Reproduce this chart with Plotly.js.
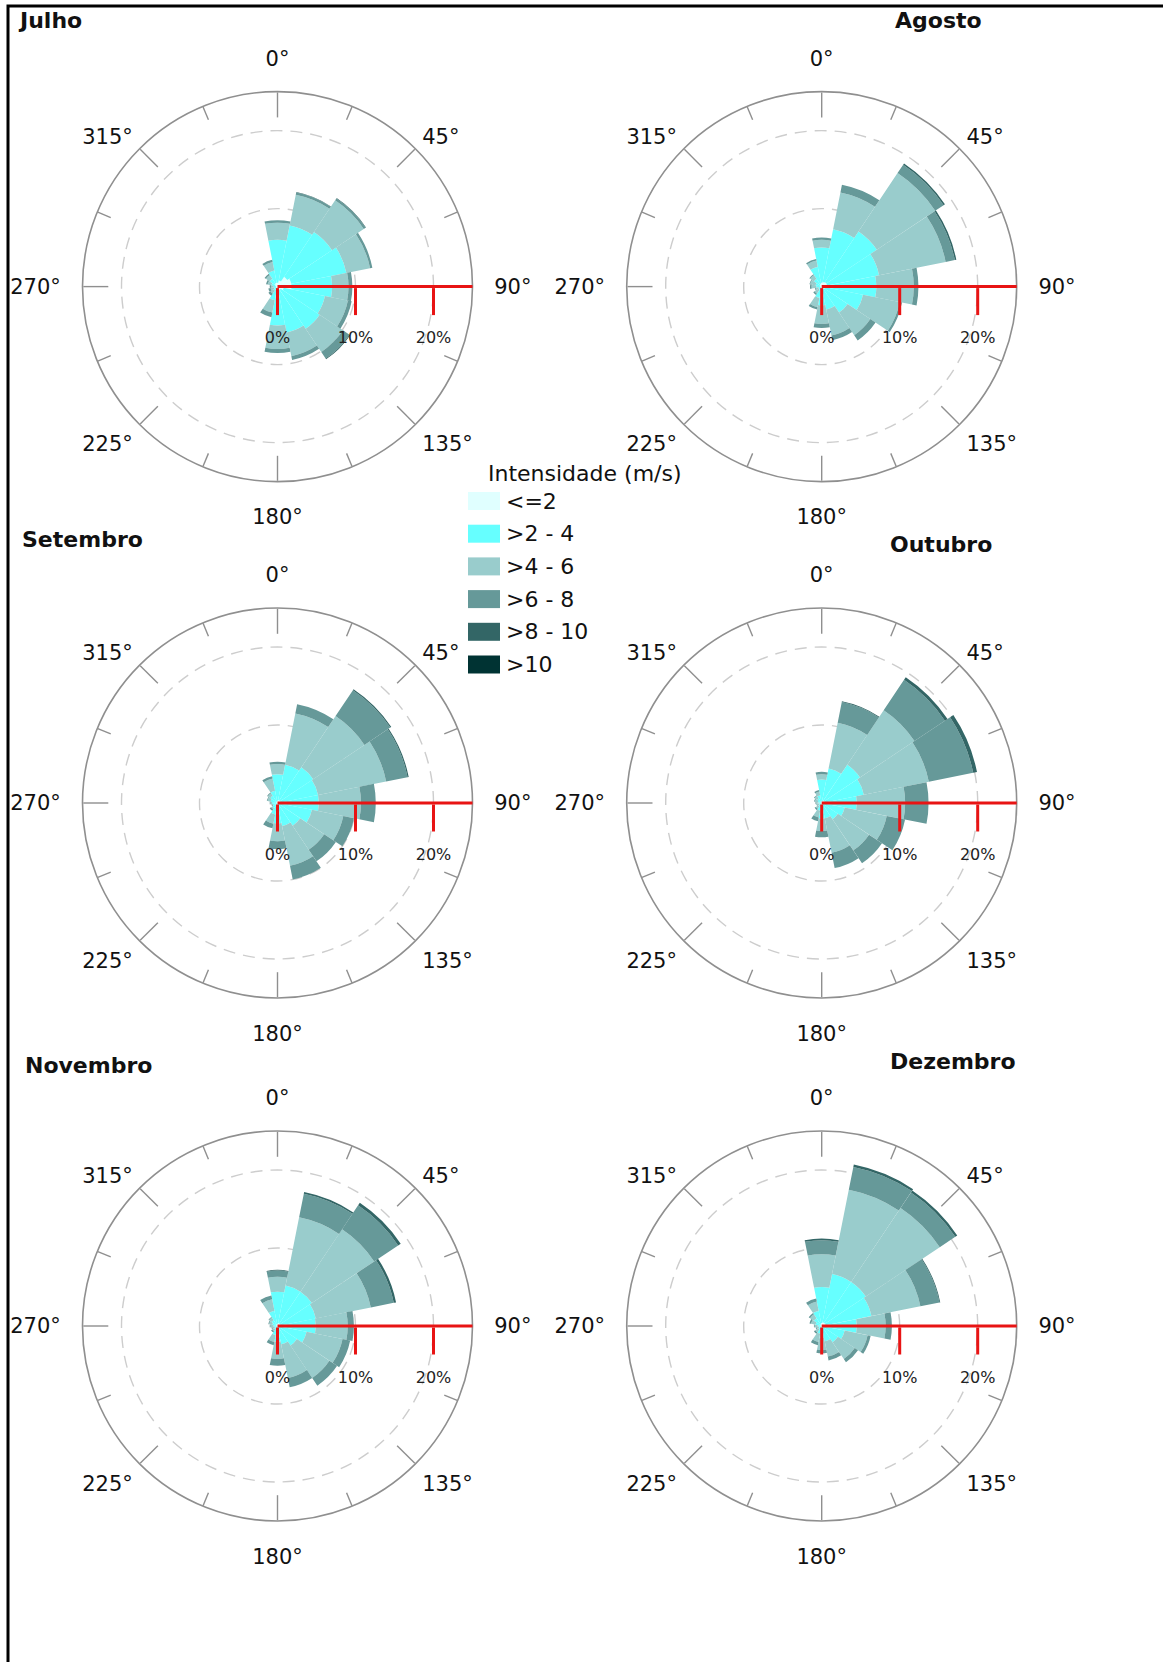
<!DOCTYPE html>
<html><head><meta charset="utf-8">
<script src="https://cdn.plot.ly/plotly-3.0.1.min.js"></script>
<style>html,body{margin:0;padding:0;background:#fff}#chart{width:1163px;height:1662px}</style>
</head><body><div id="chart"></div>
<script>
// ---------------- DATA ----------------
const months = ['Julho','Agosto','Setembro','Outubro','Novembro','Dezembro'];
// 16 directions (degrees, clockwise from north): N, NNE, NE, ENE, E, ESE, SE, SSE, S, SSW, SW, WSW, W, WNW, NW, NNW
const directions = [0,22.5,45,67.5,90,112.5,135,157.5,180,202.5,225,247.5,270,292.5,315,337.5];
const classes = ['<=2','>2 - 4','>4 - 6','>6 - 8','>8 - 10','>10'];
const classColors = ['#e0ffff','#66ffff','#99cccc','#669999','#336666','#003333'];
const cardinalTickVals = [0,90,180,270];
const cardinalTickText = ['0°','90°','180°','270°'];
const diagonalTickVals = [45,135,225,315];
const diagonalTickText = ['45°','135°','225°','315°'];
const majorTickMarks = [0,45,135,180,225,270,315];
const minorTickVals = [22.5,67.5,112.5,157.5,202.5,247.5,292.5,337.5];
const radialTickVals = [0,10,20];
const radialTickText = ['0%','10%','20%'];

// frequency (%) per direction, per speed class
const julho_le2  = [0.5,0.8,1.5,1.8,1.8,0.8,0.5,0.4,0.4,0.3,0.2,0.2,0.2,0.3,0.4,0.5];
const julho_2_4  = [5.5,7.2,6.9,7.2,5.2,5.4,6.0,5.6,4.6,1.5,0.4,0.3,0.3,0.5,0.8,1.6];
const julho_4_6  = [2.2,4.0,4.9,3.1,2.1,3.0,3.6,3.1,3.0,1.6,0.5,0.4,0.3,0.5,0.6,1.1];
const julho_6_8  = [0.3,0.3,0.3,0.3,0.5,0.5,1.0,0.5,0.5,0.6,0.3,0.3,0.2,0.2,0.2,0.3];
const julho_8_10 = [0,0.05,0.05,0,0,0,0.1,0,0,0,0,0,0,0,0,0];
const julho_gt10 = [0,0,0,0,0,0,0,0,0,0,0,0,0,0,0,0];

const agosto_le2  = [0.5,0.6,0.7,0.7,0.8,0.5,0.4,0.3,0.3,0.2,0.1,0.1,0.2,0.2,0.3,0.4];
const agosto_2_4  = [4.5,6.9,7.8,6.8,6.2,4.9,3.6,2.7,2.1,1.3,0.4,0.3,0.5,0.6,0.9,2.2];
const agosto_4_6  = [1.0,4.8,9.0,8.7,4.8,4.8,3.5,3.4,2.4,1.2,0.6,0.4,0.6,0.7,0.6,0.8];
const agosto_6_8  = [0.3,1.0,1.3,1.2,0.6,0.3,0.8,0.6,0.5,0.3,0.2,0.1,0.2,0.1,0.1,0.2];
const agosto_8_10 = [0,0,0.2,0.2,0,0,0,0,0,0,0,0,0,0,0,0];
const agosto_gt10 = [0,0,0,0,0,0,0,0,0,0,0,0,0,0,0,0];

const setembro_le2  = [0.3,0.4,0.4,0.4,0.3,0.3,0.2,0.2,0.2,0.1,0.1,0.1,0.1,0.2,0.2,0.2];
const setembro_2_4  = [3.4,4.6,5.1,4.9,5.0,4.2,3.3,2.8,2.4,1.4,0.7,0.5,0.6,0.7,0.9,1.4];
const setembro_4_6  = [1.3,6.7,7.9,8.9,5.4,4.1,3.7,5.2,2.3,1.2,0.2,0.1,0.2,0.4,0.4,1.6];
const setembro_6_8  = [0.3,1.2,4.0,2.8,1.9,1.4,1.8,1.8,1.0,0.6,0.2,0.1,0.1,0.1,0.1,0.3];
const setembro_8_10 = [0,0,0.15,0.15,0,0,0,0,0,0,0,0,0,0,0,0];
const setembro_gt10 = [0,0,0,0,0,0,0,0,0,0,0,0,0,0,0,0];

const outubro_le2  = [0.2,0.3,0.4,0.4,0.4,0.3,0.2,0.2,0.2,0.1,0.1,0.1,0.1,0.1,0.2,0.2];
const outubro_2_4  = [2.8,4.2,5.5,5.1,4.1,2.7,2.3,1.8,1.8,0.9,0.4,0.2,0.3,0.4,0.5,0.8];
const outubro_4_6  = [0.7,6.0,8.4,8.5,6.2,5.5,4.8,4.5,1.6,0.9,0.4,0.3,0.3,0.4,0.4,0.5];
const outubro_6_8  = [0.3,2.7,4.7,5.8,3.0,2.4,2.0,2.0,0.8,0.5,0.2,0.1,0.1,0.1,0.1,0.2];
const outubro_8_10 = [0,0.1,0.4,0.5,0,0,0,0,0,0,0,0,0,0,0,0];
const outubro_gt10 = [0,0,0,0,0,0,0,0,0,0,0,0,0,0,0,0];

const novembro_le2  = [0.3,0.4,0.4,0.4,0.4,0.3,0.2,0.2,0.2,0.1,0.1,0.1,0.1,0.2,0.2,0.3];
const novembro_2_4  = [4.1,4.9,4.9,4.6,4.5,3.5,2.8,2.2,1.8,1.1,0.4,0.3,0.4,0.5,0.7,1.7];
const novembro_4_6  = [1.9,8.9,9.6,7.2,4.1,4.7,5.0,4.4,2.2,0.9,0.3,0.3,0.4,0.4,0.4,1.5];
const novembro_6_8  = [0.8,3.1,3.7,3.0,0.8,1.0,1.2,1.2,0.9,0.4,0.2,0.1,0.1,0.1,0.1,0.5];
const novembro_8_10 = [0.1,0.2,0.4,0.3,0,0,0,0,0,0,0,0,0,0,0,0];
const novembro_gt10 = [0,0,0,0,0,0,0,0,0,0,0,0,0,0,0,0];

const dezembro_le2  = [0.4,0.5,0.5,0.5,0.4,0.3,0.3,0.2,0.2,0.1,0.1,0.1,0.1,0.2,0.2,0.3];
const dezembro_2_4  = [4.6,6.3,6.3,6.0,4.1,2.7,2.2,1.8,1.3,0.9,0.4,0.3,0.4,0.6,1.0,1.7];
const dezembro_4_6  = [4.2,11.0,11.4,6.4,3.7,3.0,2.6,2.0,1.6,1.1,0.5,0.3,0.4,0.6,0.6,1.2];
const dezembro_6_8  = [1.8,3.0,2.4,2.5,0.8,0.4,0.5,0.5,0.4,0.4,0.2,0.1,0.1,0.2,0.2,0.4];
const dezembro_8_10 = [0.2,0.3,0.3,0.1,0,0,0,0,0,0,0,0,0,0,0,0];
const dezembro_gt10 = [0,0,0,0,0,0,0,0,0,0,0,0,0,0,0,0];

const monthSeries = [
  [julho_le2, julho_2_4, julho_4_6, julho_6_8, julho_8_10, julho_gt10],
  [agosto_le2, agosto_2_4, agosto_4_6, agosto_6_8, agosto_8_10, agosto_gt10],
  [setembro_le2, setembro_2_4, setembro_4_6, setembro_6_8, setembro_8_10, setembro_gt10],
  [outubro_le2, outubro_2_4, outubro_4_6, outubro_6_8, outubro_8_10, outubro_gt10],
  [novembro_le2, novembro_2_4, novembro_4_6, novembro_6_8, novembro_8_10, novembro_gt10],
  [dezembro_le2, dezembro_2_4, dezembro_4_6, dezembro_6_8, dezembro_8_10, dezembro_gt10]
];

// ---------------- LAYOUT ----------------
const W = 1163, H = 1662;
const FONT = 'DejaVu Sans, Verdana, sans-serif';
const RED = 'rgb(232,20,20)';
const GREYLINE = '#8f8f8f';
const R = 195;
const colX = [277.5, 821.7];
const rowY = [286.6, 803, 1326];
// title centre positions (px)
const titlePos = [[50,21],[939,21],[82,540],[941,544],[88,1065],[953,1061]];

function esc(s){ return s.replace(/&/g,'&amp;').replace(/</g,'&lt;').replace(/>/g,'&gt;'); }

const data = [];
const layout = {
  width: W, height: H,
  margin: {l:0, r:0, t:0, b:0},
  paper_bgcolor: '#fff',
  font: {family: FONT, color: '#111'},
  showlegend: false,
  annotations: [],
  shapes: []
};

const angBase = {direction: 'clockwise', rotation: 90, tickmode: 'array', showgrid: false};

months.forEach((m, i) => {
  const cx = colX[i % 2], cy = rowY[Math.floor(i / 2)];
  const dom = {x: [(cx - R) / W, (cx + R) / W], y: [1 - (cy + R) / H, 1 - (cy - R) / H]};
  const base = i === 0 ? 'polar' : 'polar' + (i + 1);
  const minorId = 'polar' + (7 + i);
  const cardId = 'polar' + (13 + i);
  const diagId = 'polar' + (19 + i);

  classes.forEach((c, k) => {
    data.push({
      type: 'barpolar', subplot: base, name: c,
      r: monthSeries[i][k], theta: directions,
      marker: {color: classColors[k], line: {width: 0}},
      hoverinfo: 'skip', showlegend: false
    });
  });

  layout[base] = {
    domain: dom, bgcolor: 'rgba(0,0,0,0)', barmode: 'stack', bargap: 0,
    angularaxis: Object.assign({}, angBase, {tickvals: majorTickMarks,
      showticklabels: false, ticks: 'inside', ticklen: 25, tickwidth: 1.4, tickcolor: GREYLINE,
      showline: true, linecolor: GREYLINE, linewidth: 1.6}),
    radialaxis: {range: [0, 25], angle: 0, side: 'clockwise', tickmode: 'array', tickvals: radialTickVals,
      showticklabels: false, ticks: 'outside', ticklen: 27, tickwidth: 3, tickcolor: RED,
      showline: true, linecolor: RED, linewidth: 3,
      showgrid: true, gridcolor: '#cdcdcd', gridwidth: 1.4, griddash: '12px,8px', layer: 'above traces'}
  };
  layout[minorId] = {
    domain: dom, bgcolor: 'rgba(0,0,0,0)',
    angularaxis: Object.assign({}, angBase, {tickvals: minorTickVals,
      showticklabels: false, ticks: 'inside', ticklen: 14, tickwidth: 1.4, tickcolor: GREYLINE, showline: false}),
    radialaxis: {range: [0, 25], visible: false}
  };
  layout[cardId] = {
    domain: dom, bgcolor: 'rgba(0,0,0,0)',
    angularaxis: Object.assign({}, angBase, {tickvals: cardinalTickVals, ticktext: cardinalTickText,
      ticks: 'outside', ticklen: 17, tickcolor: 'rgba(0,0,0,0)', showline: false,
      tickfont: {family: FONT, size: 21, color: '#111'}}),
    radialaxis: {range: [0, 25], angle: 0, side: 'clockwise', tickmode: 'array', tickvals: radialTickVals, ticktext: radialTickText,
      ticks: 'outside', ticklen: 37, tickcolor: 'rgba(0,0,0,0)', showline: false, showgrid: false,
      tickfont: {family: FONT, size: 16, color: '#222'}}
  };
  layout[diagId] = {
    domain: dom, bgcolor: 'rgba(0,0,0,0)',
    angularaxis: Object.assign({}, angBase, {tickvals: diagonalTickVals, ticktext: diagonalTickText,
      ticks: 'outside', ticklen: 5, tickcolor: 'rgba(0,0,0,0)', showline: false,
      tickfont: {family: FONT, size: 21, color: '#111'}}),
    radialaxis: {range: [0, 25], visible: false}
  };
  [minorId, cardId, diagId].forEach(id => {
    data.push({type: 'scatterpolar', subplot: id, r: [], theta: [], mode: 'markers', showlegend: false, hoverinfo: 'skip'});
  });

  const tp = titlePos[i];
  layout.annotations.push({
    text: '<b>' + m + '</b>', xref: 'paper', yref: 'paper',
    x: tp[0] / W, y: 1 - tp[1] / H, xanchor: 'center', yanchor: 'middle',
    showarrow: false, font: {family: FONT, size: 22, color: '#111'}
  });
});

// legend (manual, drawn from classes / classColors)
layout.annotations.push({
  text: 'Intensidade (m/s)', xref: 'paper', yref: 'paper', x: 585 / W, y: 1 - 473 / H,
  xanchor: 'center', yanchor: 'middle', showarrow: false, font: {family: FONT, size: 22, color: '#111'}
});
classes.forEach((c, k) => {
  const yc = 501 + 32.7 * k;
  layout.shapes.push({type: 'rect', xref: 'paper', yref: 'paper',
    x0: 468 / W, x1: 500 / W, y0: 1 - (yc - 9) / H, y1: 1 - (yc + 9) / H,
    fillcolor: classColors[k], line: {width: 0}});
  layout.annotations.push({text: esc(c), xref: 'paper', yref: 'paper', x: 504 / W, y: 1 - yc / H,
    xanchor: 'left', yanchor: 'middle', showarrow: false, font: {family: FONT, size: 22, color: '#111'}});
});
// frame (top + left border visible)
layout.shapes.push({type: 'rect', xref: 'paper', yref: 'paper', x0: 8 / W, x1: 1.05, y0: 1 - 6 / H, y1: -0.05,
  line: {color: '#000', width: 3}, fillcolor: 'rgba(0,0,0,0)'});

Plotly.newPlot('chart', data, layout, {displayModeBar: false, staticPlot: true});
</script>
</body></html>
